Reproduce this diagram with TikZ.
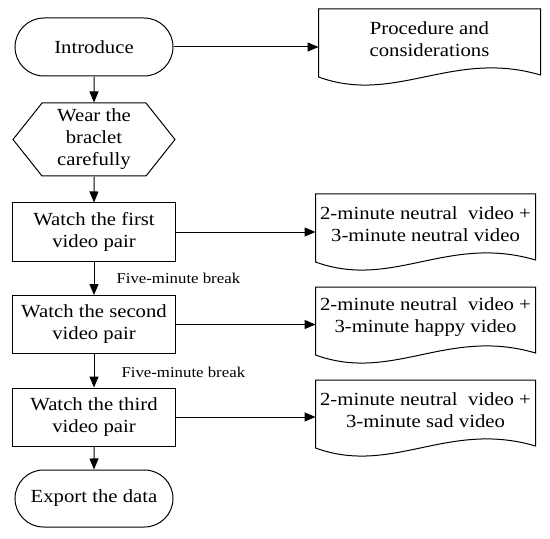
\documentclass[tikz,border=0pt]{standalone}
\usepackage{fontspec}
\setmainfont{Liberation Serif}[FakeStretch=1.12]
\usetikzlibrary{arrows.meta,positioning,shapes.misc,shapes.symbols}
\newcommand{\bigtx}{\fontsize{18.5bp}{22bp}\selectfont}
\newcommand{\smalltx}{\fontsize{15bp}{17bp}\selectfont}
\newcommand{\docwave}[1]{%
  \draw ([yshift=-7bp]#1.south west) -- (#1.north west) -- (#1.north east)
    -- ([yshift=-5bp]#1.south east)
    .. controls +(-88,-26) and +(77,28) .. ([yshift=-7bp]#1.south west);}

\begin{document}
\begin{tikzpicture}[x=1bp,y=-1bp,line width=1bp,
  base/.style={draw,align=center,font=\bigtx,inner sep=2bp,
               minimum width=162bp,minimum height=58bp},
  term/.style={base,rounded rectangle},
  proc/.style={base,rectangle},
  prep/.style={base,signal,signal to=west and east,signal pointer angle=103,
               minimum height=73bp},
  docbox/.style={align=center,font=\bigtx,inner sep=2bp,anchor=north,
                 minimum width=219bp,minimum height=60bp},
  brk/.style={font=\smalltx,inner sep=0pt},
  flow/.style={-{Triangle[length=11bp,width=9bp]}}]
  \useasboundingbox (0,0) rectangle (550,539);
  \node[term] (intro) at (94,47) {Introduce};
  \node[prep] (wear) at (94,139.5) {Wear the\\braclet\\carefully};
  \node[proc] (watch1) at (94,232) {Watch the first\\video pair};
  \node[proc] (watch2) at (94,324.5) {Watch the second\\video pair};
  \node[proc] (watch3) at (94,417) {Watch the third\\video pair};
  \node[term,minimum height=57bp] (export) at (94,498.5) {Export the data};
  \node[docbox,minimum width=221bp] (proc0) at (429.5,9) {Procedure and\\considerations};
  \node[docbox] (vid1) at (425.5,194) {2-minute neutral\ \ video +\\3-minute neutral video};
  \node[docbox] (vid2) at (425.5,287) {2-minute neutral\ \ video +\\3-minute happy video};
  \node[docbox] (vid3) at (425.5,380) {2-minute neutral\ \ video +\\3-minute sad video};
  \docwave{proc0}
  \docwave{vid1}
  \docwave{vid2}
  \docwave{vid3}
  \draw[flow] (intro) -- (wear);
  \draw[flow] (wear) -- (watch1);
  \draw[flow] (watch1) -- node[brk,right=22bp] {Five-minute break} (watch2);
  \draw[flow] (watch2) -- node[brk,right=27bp,yshift=-2bp] {Five-minute break} (watch3);
  \draw[flow] (watch3) -- (export);
  \draw[flow] (intro.east) -- (intro.east -| proc0.west);
  \draw[flow] (watch1.east) -- (watch1.east -| vid1.west);
  \draw[flow] (watch2.east) -- (watch2.east -| vid2.west);
  \draw[flow] (watch3.east) -- (watch3.east -| vid3.west);
\end{tikzpicture}
\end{document}
